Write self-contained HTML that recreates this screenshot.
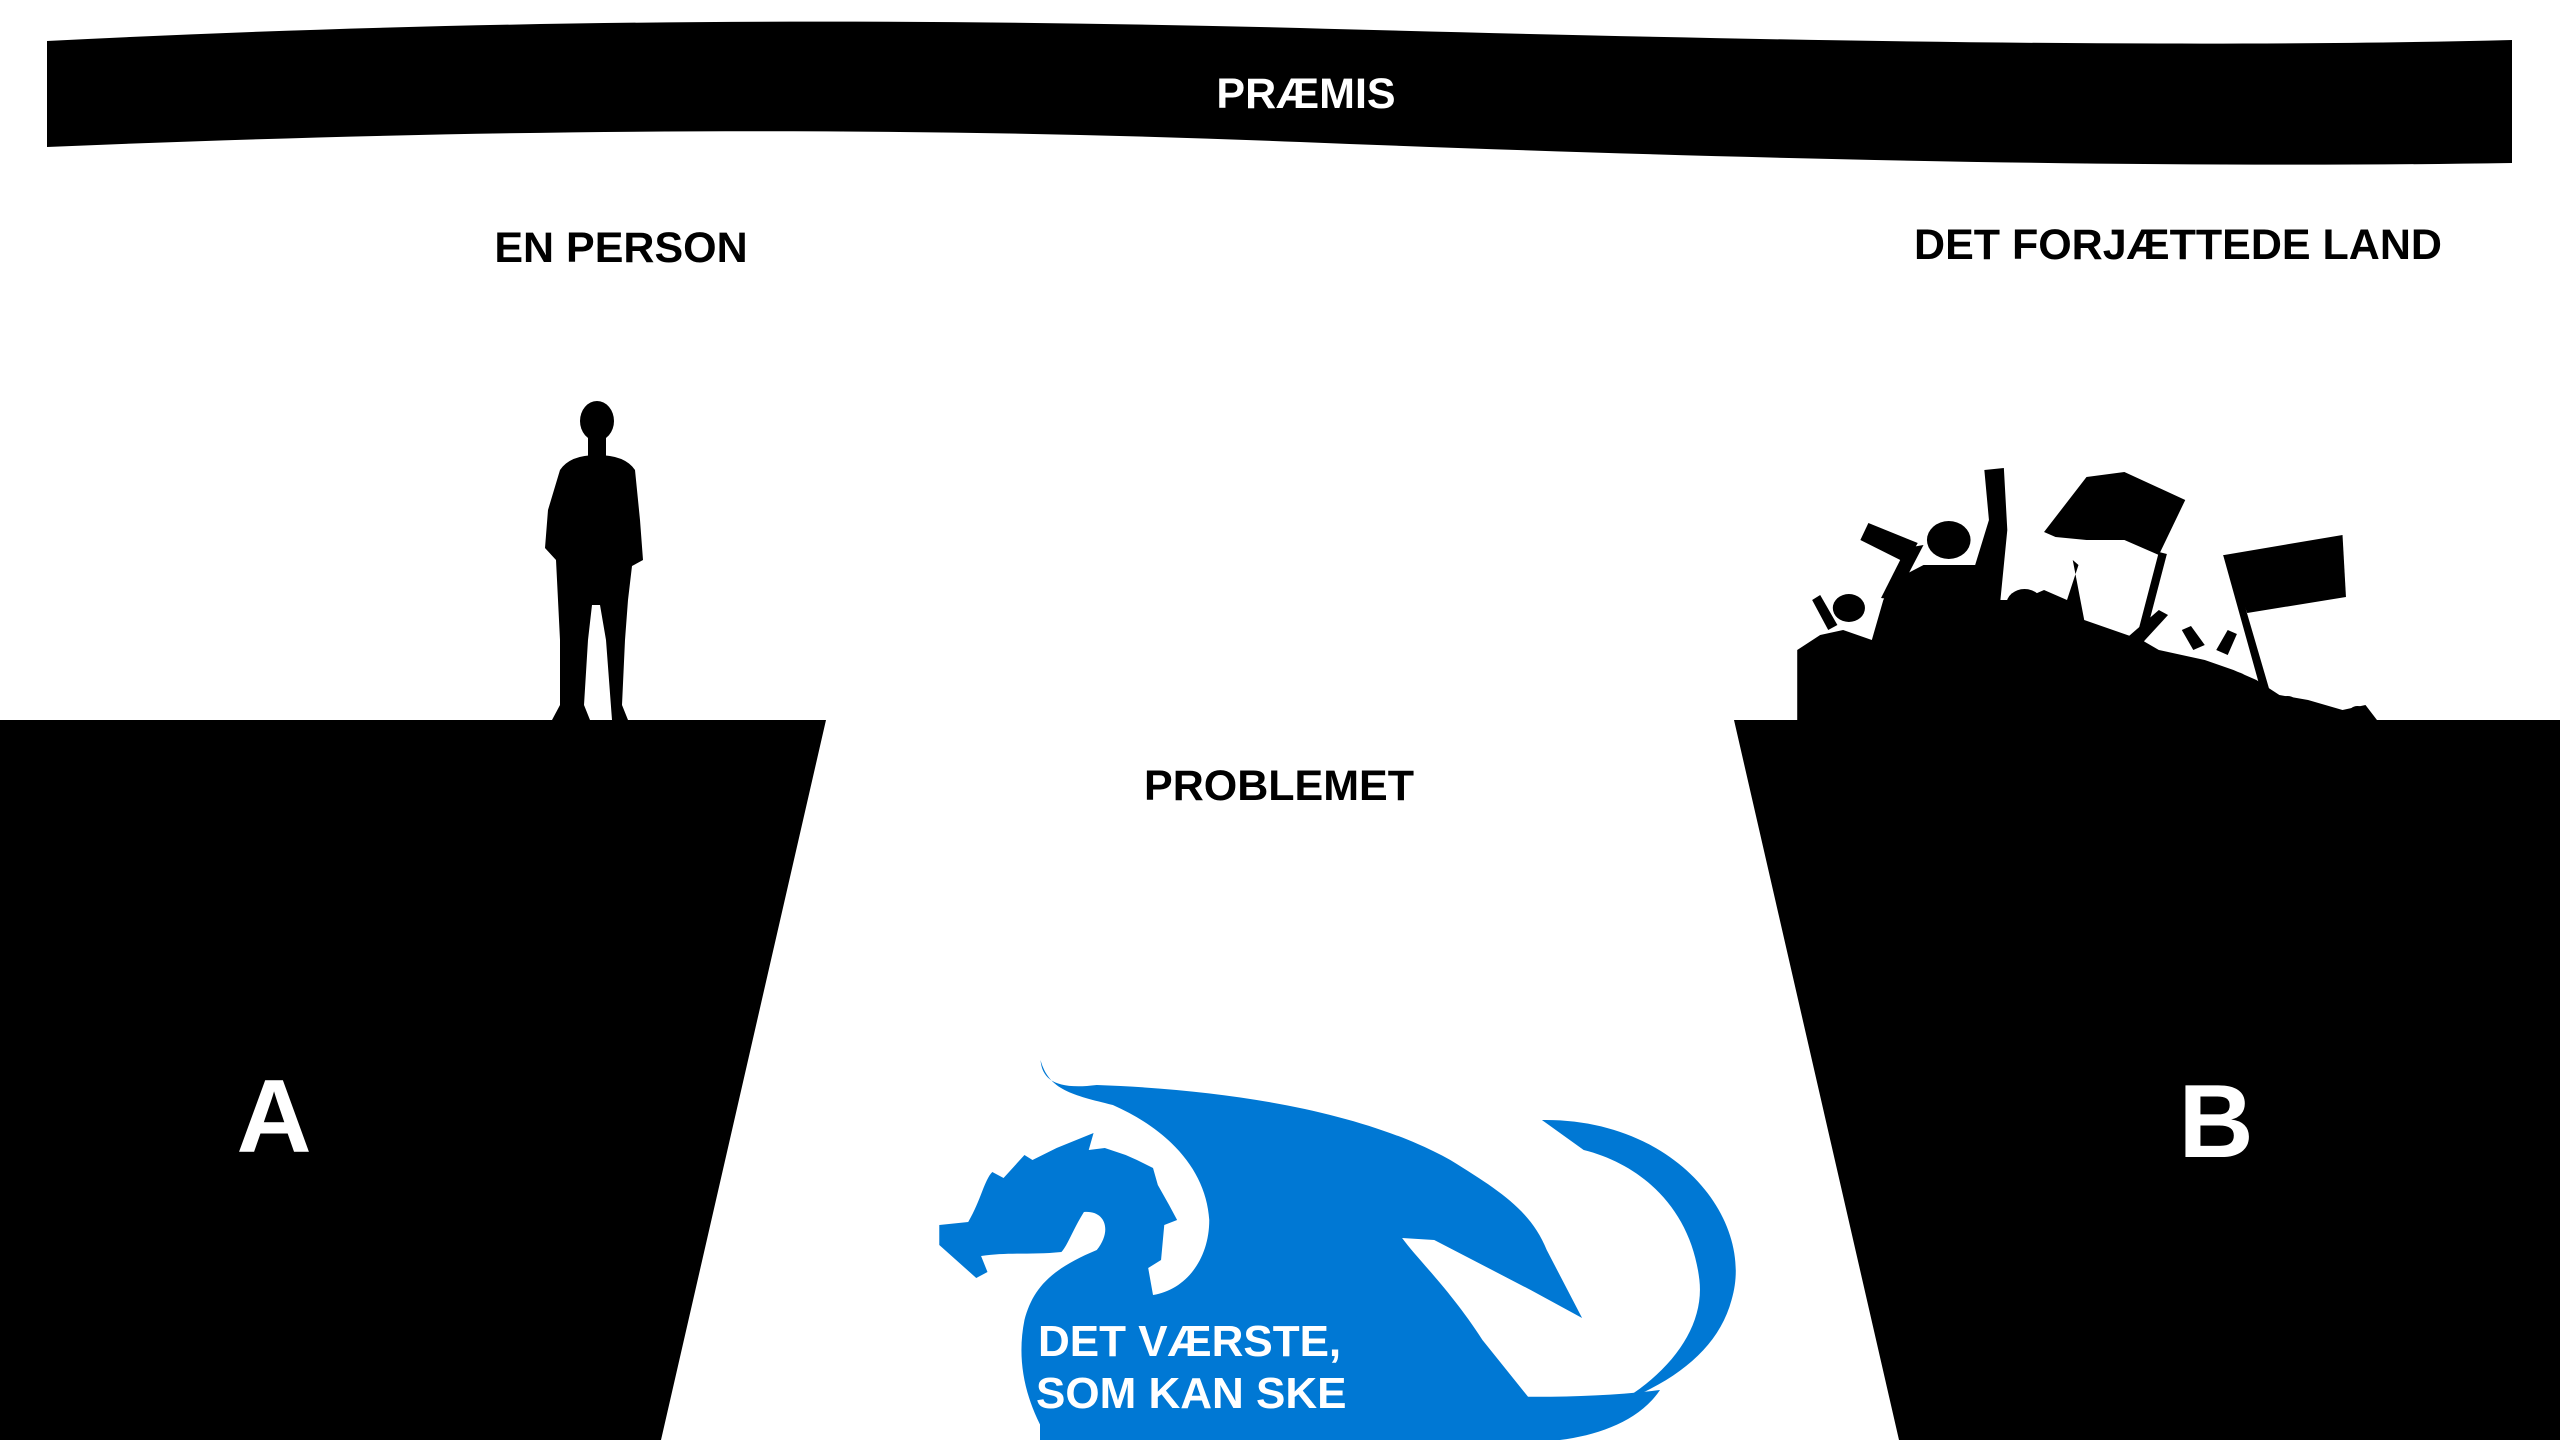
<!DOCTYPE html>
<html><head><meta charset="utf-8"><style>
html,body{margin:0;padding:0;background:#fff;}
svg{display:block}
text{font-family:"Liberation Sans",sans-serif;font-weight:bold}
</style></head><body>
<svg width="2560" height="1440" viewBox="0 0 2560 1440" xmlns="http://www.w3.org/2000/svg">
<path d="M47,41 C500,18 900,18 1300,28 C1800,42 2200,48 2512,40 L2512,163 C2200,168 1800,162 1300,142 C900,126 500,128 47,147 Z" fill="#000"/>
<text x="1306" y="108" font-size="43" fill="#fff" text-anchor="middle">PRÆMIS</text>
<text x="621" y="262" font-size="43" fill="#000" text-anchor="middle">EN PERSON</text>
<text x="2178" y="259" font-size="43" fill="#000" text-anchor="middle">DET FORJÆTTEDE LAND</text>
<text x="1279" y="800" font-size="43" fill="#000" text-anchor="middle">PROBLEMET</text>

<polygon points="0,720 826,720 661,1440 0,1440" fill="#000"/>
<polygon points="1734,720 2560,720 2560,1440 1899,1440" fill="#000"/>
<text x="274" y="1152" font-size="104" fill="#fff" text-anchor="middle">A</text>
<text x="2216" y="1157" font-size="104" fill="#fff" text-anchor="middle">B</text>

<!-- person -->
<g fill="#000">
<ellipse cx="597" cy="421" rx="17" ry="20"/>
<rect x="588" y="436" width="18" height="24"/>
<path d="M560,470 Q570,455 597,455 Q625,455 635,470 L640,520 L643,560 L632,566 L628,600 L625,640 L622,705 L628,720 L612,720 L606,640 L600,605 L592,605 L588,640 L584,705 L590,720 L552,720 L560,705 L560,640 L558,600 L556,560 L545,548 L548,510 Z"/>
</g>

<!-- crowd -->
<g fill="#000" transform="translate(1780,0) scale(1.148,1) translate(-1780,0)">
<path d="M1795,720 L1795,650 L1815,635 L1835,630 L1860,640 L1870,600 L1880,580 L1905,565 L1950,565 L1962,520 L1958,470 L1975,468 L1978,530 L1972,600 L1990,600 L2010,590 L2030,600 L2040,565 L2035,560 L2045,620 L2070,630 L2095,640 L2110,650 L2130,655 L2150,660 L2175,670 L2195,680 L2215,695 L2240,700 L2270,710 L2290,705 L2300,720 Z"/>
<circle cx="1927" cy="540" r="19"/>
<circle cx="1840" cy="608" r="14"/>
<circle cx="1993" cy="605" r="16"/>
<circle cx="2053" cy="647" r="13"/>
<circle cx="2117" cy="667" r="12"/>
<circle cx="2177" cy="683" r="11"/>
<circle cx="2222" cy="705" r="9"/>
<circle cx="2283" cy="714" r="8"/>
<polygon points="1850,540 1857,523 1900,543 1890,563"/>
<polygon points="1890,548 1905,545 1880,600 1868,598"/>
<polygon points="1808,600 1815,595 1830,625 1822,630"/>
<polygon points="2080,640 2110,610 2118,615 2090,650"/>
<polygon points="2140,650 2130,630 2138,626 2150,645"/>
<polygon points="2160,650 2170,630 2178,634 2170,655"/>
<polygon points="2010,532 2047,477 2080,472 2133,500 2110,555 2080,540 2047,540 2020,537"/>
<polygon points="2110,552 2117,554 2097,642 2090,640"/>
<polygon points="2167,555 2270,535 2273,597 2187,613"/>
<polygon points="2166,555 2172,555 2214,720 2206,720"/>
</g>

<!-- dragon -->
<g fill="#0078d4" transform="translate(920,0) scale(1.607,1) translate(-920,0)">
<path d="M995,1060 C996,1080 1005,1090 1030,1085 C1120,1090 1200,1115 1250,1160 C1280,1190 1300,1210 1310,1250 L1332,1318 L1300,1290 L1240,1240 L1220,1238 C1230,1260 1250,1290 1270,1340 L1300,1400 L1320,1420 L1280,1440 L1000,1440 C985,1400 980,1360 985,1320 C990,1290 1000,1270 1030,1250 C1040,1230 1035,1210 1022,1212 C1015,1230 1012,1245 1008,1252 C990,1255 975,1252 958,1256 L962,1272 L955,1278 L932,1245 L932,1225 L950,1222 C958,1200 960,1180 965,1172 L972,1178 L985,1155 L990,1160 L1005,1148 L1028,1133 L1025,1150 L1035,1148 L1048,1155 L1055,1160 L1065,1168 L1068,1185 L1075,1205 L1080,1220 L1072,1225 L1070,1260 L1062,1268 L1065,1295 C1085,1290 1100,1260 1100,1220 C1098,1170 1075,1130 1040,1105 C1015,1095 1000,1090 995,1060 Z"/>
<path d="M1307,1120 C1390,1118 1440,1220 1425,1300 C1410,1390 1330,1430 1230,1440 L1290,1440 C1360,1420 1410,1350 1405,1280 C1400,1210 1370,1165 1333,1150 Z"/>
<path d="M1190,1300 C1180,1250 1200,1235 1215,1250 C1230,1270 1238,1300 1250,1330 L1290,1400 L1200,1400 Z"/>
</g>
<path d="M1040,1440 L1040,1385 L1380,1390 C1480,1398 1580,1400 1660,1390 C1640,1420 1600,1435 1560,1440 Z" fill="#0078d4"/>
<text x="1038" y="1356" font-size="44" fill="#fff">DET VÆRSTE,</text>
<text x="1036" y="1408" font-size="44" fill="#fff">SOM KAN SKE</text>
</svg>
</body></html>
